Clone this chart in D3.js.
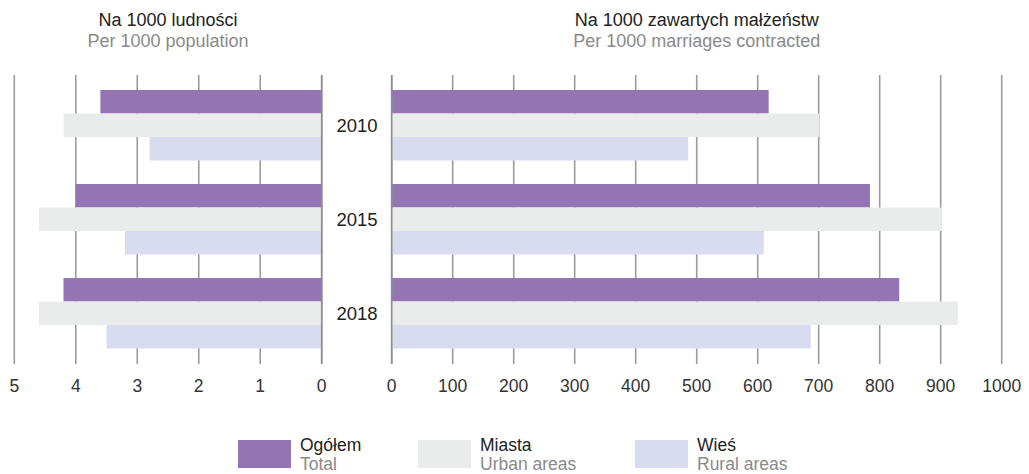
<!DOCTYPE html>
<html>
<head>
<meta charset="utf-8">
<script src="https://cdn.jsdelivr.net/npm/d3@7"></script>
<style>
    body { margin: 0; background: #fff; }
    svg { font-family: "Liberation Sans", Arial, sans-serif; }
</style>
</head>
<body>
<div id="chart"></div>
<script>
var years = ["2010", "2015", "2018"],
    seriesKeys = ["ogolem", "miasta", "wies"],
    seriesNamesPl = ["Ogółem", "Miasta", "Wieś"],
    seriesNamesEn = ["Total", "Urban areas", "Rural areas"],
    seriesColors = ["#9474b2", "#eaeceb", "#d9dbf0"],
    // per 1000 population
    popOgolem = [3.6, 4.0, 4.2],
    popMiasta = [4.2, 4.6, 4.6],
    popWies = [2.8, 3.2, 3.5],
    // per 1000 marriages contracted
    marOgolem = [618, 784, 832],
    marMiasta = [701, 902, 928],
    marWies = [486, 610, 687],
    leftTicks = [5, 4, 3, 2, 1, 0],
    rightTicks = [0, 100, 200, 300, 400, 500, 600, 700, 800, 900, 1000];

var width = 1029,
    height = 474,
    gridTop = 75,
    gridBottom = 364,
    gridColor = "#9b9b9b";

var svg = d3.select("#chart").append("svg")
    .attr("width", width)
    .attr("height", height);

var y = d3.scaleBand()
    .domain(years)
    .range([90, 348.5])
    .paddingInner(0.25)
    .paddingOuter(0);

var ySub = d3.scaleBand()
    .domain(seriesKeys)
    .range([0, y.bandwidth()]);

var xLeft = d3.scaleLinear().domain([5, 0]).range([14.3, 321.7]),
    xRight = d3.scaleLinear().domain([0, 1000]).range([391.7, 1001.7]);

function rows(a, b, c) {
    var out = [];
    years.forEach(function(yr, i) {
        [a, b, c].forEach(function(arr, j) {
            out.push({year : yr, key : seriesKeys[j], value : arr[i], color : seriesColors[j]});
        });
    });
    return out;
}

function drawPanel(x, ticks, data, isLeft, titleX, title, subtitle) {
    var g = svg.append("g");

    // gridlines
    g.selectAll(".grid")
        .data(ticks)
        .enter().append("line")
        .attr("x1", function(d) { return x(d); })
        .attr("x2", function(d) { return x(d); })
        .attr("y1", gridTop)
        .attr("y2", gridBottom)
        .style("stroke", gridColor)
        .style("stroke-width", 1.6);

    // bars
    g.selectAll(".bar")
        .data(data)
        .enter().append("rect")
        .attr("x", function(d) { return isLeft ? x(d.value) : x(0); })
        .attr("y", function(d) { return y(d.year) + ySub(d.key); })
        .attr("width", function(d) { return Math.abs(x(d.value) - x(0)); })
        .attr("height", ySub.bandwidth())
        .style("fill", function(d) { return d.color; });

    // zero line drawn on top of bars
    g.append("line")
        .attr("x1", x(0)).attr("x2", x(0))
        .attr("y1", gridTop).attr("y2", gridBottom)
        .style("stroke", "#8e8e8e")
        .style("stroke-width", 1.6);

    // tick labels
    g.selectAll(".tickLabel")
        .data(ticks)
        .enter().append("text")
        .attr("x", function(d) { return x(d); })
        .attr("y", 392)
        .attr("text-anchor", "middle")
        .style("font-size", "17.5px")
        .style("fill", "#333")
        .text(function(d) { return d; });

    g.append("text")
        .attr("x", titleX)
        .attr("y", 26)
        .attr("text-anchor", "middle")
        .style("font-size", "18px")
        .style("fill", "#222")
        .text(title);
    g.append("text")
        .attr("x", titleX)
        .attr("y", 47)
        .attr("text-anchor", "middle")
        .style("font-size", "18px")
        .style("fill", "#8a8a8a")
        .text(subtitle);
}

drawPanel(xLeft, leftTicks, rows(popOgolem, popMiasta, popWies), true, 168,
    "Na 1000 ludności", "Per 1000 population");
drawPanel(xRight, rightTicks, rows(marOgolem, marMiasta, marWies), false, 696.7,
    "Na 1000 zawartych małżeństw", "Per 1000 marriages contracted");

// year labels in the middle
svg.selectAll(".yearLabel")
    .data(years)
    .enter().append("text")
    .attr("x", 357)
    .attr("y", function(d) { return y(d) + ySub("miasta") + ySub.bandwidth() / 2 + 7; })
    .attr("text-anchor", "middle")
    .style("font-size", "18.5px")
    .style("fill", "#222")
    .text(function(d) { return d; });

// legend
var legendX = [238, 418, 635];
var legend = svg.selectAll(".legendItem")
    .data(seriesKeys)
    .enter().append("g")
    .attr("transform", function(d, i) { return "translate(" + legendX[i] + ",440)"; });

legend.append("rect")
    .attr("width", 53)
    .attr("height", 28)
    .style("fill", function(d, i) { return seriesColors[i]; });

legend.append("text")
    .attr("x", 62)
    .attr("y", 11)
    .style("font-size", "17.5px")
    .style("fill", "#222")
    .text(function(d, i) { return seriesNamesPl[i]; });

legend.append("text")
    .attr("x", 62)
    .attr("y", 30)
    .style("font-size", "17.5px")
    .style("fill", "#8a8a8a")
    .text(function(d, i) { return seriesNamesEn[i]; });
</script>
</body>
</html>
